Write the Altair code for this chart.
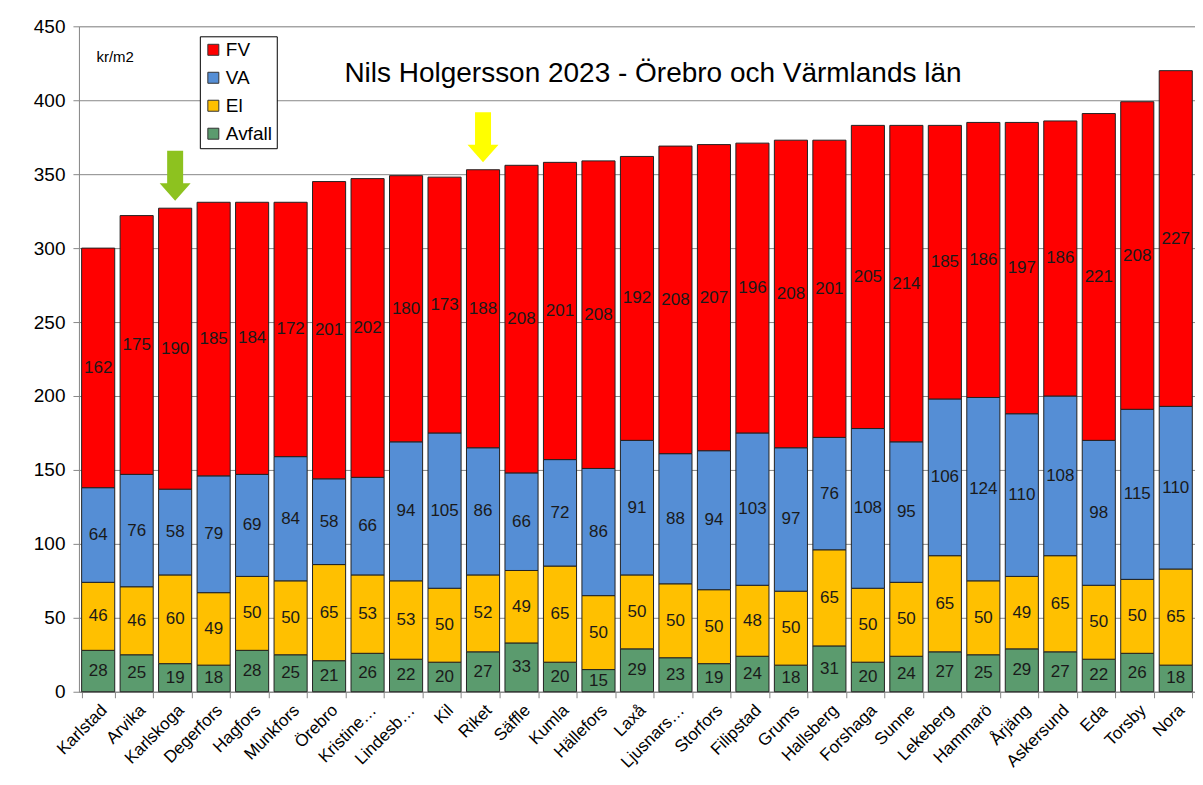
import altair as alt
import pandas as pd

categories = ["Karlstad", "Arvika", "Karlskoga", "Degerfors", "Hagfors", "Munkfors", "Örebro",
              "Kristine…", "Lindesb…", "Kil", "Riket", "Säffle", "Kumla", "Hällefors", "Laxå",
              "Ljusnars…", "Storfors", "Filipstad", "Grums", "Hallsberg", "Forshaga", "Sunne",
              "Lekeberg", "Hammarö", "Årjäng", "Askersund", "Eda", "Torsby", "Nora"]
avfall = [28, 25, 19, 18, 28, 25, 21, 26, 22, 20, 27, 33, 20, 15, 29, 23, 19, 24, 18, 31, 20, 24, 27, 25, 29, 27, 22, 26, 18]
el = [46, 46, 60, 49, 50, 50, 65, 53, 53, 50, 52, 49, 65, 50, 50, 50, 50, 48, 50, 65, 50, 50, 65, 50, 49, 65, 50, 50, 65]
va = [64, 76, 58, 79, 69, 84, 58, 66, 94, 105, 86, 66, 72, 86, 91, 88, 94, 103, 97, 76, 108, 95, 106, 124, 110, 108, 98, 115, 110]
fv = [162, 175, 190, 185, 184, 172, 201, 202, 180, 173, 188, 208, 201, 208, 192, 208, 207, 196, 208, 201, 205, 214, 185, 186, 197, 186, 221, 208, 227]

series_names = ["FV", "VA", "El", "Avfall"]
series_colors = ["#FF0000", "#558ED5", "#FFC000", "#5B9B6E"]
stack_order = {"Avfall": 0, "El": 1, "VA": 2, "FV": 3}

arrow_categories = ["Karlskoga", "Riket"]
arrow_values = [349, 375]

title_text = "Nils Holgersson 2023 - Örebro och Värmlands län"
unit_text = "kr/m2"

rows = []
for i, c in enumerate(categories):
    for name, vals in (("Avfall", avfall), ("El", el), ("VA", va), ("FV", fv)):
        rows.append({"kommun": c, "serie": name, "value": vals[i], "ord": stack_order[name]})
df = pd.DataFrame(rows)
arrows = pd.DataFrame({"kommun": arrow_categories, "y": arrow_values})

FONT = "Liberation Sans"

x_enc = alt.X("kommun:N", sort=categories, title=None,
              scale=alt.Scale(paddingInner=0.14, paddingOuter=0.07),
              axis=alt.Axis(labelAngle=-45, labelFontSize=17, labelColor="#000", labelFont=FONT,
                            tickBand="extent", tickSize=6, tickColor="#888", domainColor="#888",
                            labelPadding=4, grid=False))

base = alt.Chart(df)

bars = base.mark_bar(stroke="#222", strokeWidth=1).encode(
    x=x_enc,
    y=alt.Y("value:Q", stack="zero", scale=alt.Scale(domain=[0, 450]),
            axis=alt.Axis(values=list(range(0, 451, 50)), labelFontSize=19, labelColor="#000",
                          labelFont=FONT, gridColor="#888", tickColor="#888", domainColor="#888",
                          tickSize=6, labelPadding=8,
                          title=unit_text, titleAngle=0, titleAlign="left", titleBaseline="middle",
                          titleX=17, titleY=30, titleFontSize=15, titleFontWeight="normal",
                          titleFont=FONT, titleColor="#000")),
    fill=alt.Fill("serie:N", scale=alt.Scale(domain=series_names, range=series_colors),
                  legend=alt.Legend(title=None, orient="none", legendX=121, legendY=10,
                                    strokeColor="#000", fillColor="white", padding=4,
                                    symbolType="square", symbolSize=121, symbolStrokeColor="#333",
                                    symbolStrokeWidth=1, labelFontSize=19, labelFont=FONT,
                                    labelColor="#000", rowPadding=8, labelOffset=3)),
    order=alt.Order("ord:Q", sort="ascending"),
)

labels = base.transform_stack(
    stack="value", groupby=["kommun"], as_=["y0", "y1"],
    sort=[alt.SortField("ord", order="ascending")]
).transform_calculate(mid="(datum.y0 + datum.y1) / 2").mark_text(
    fontSize=17, font=FONT, color="#1a1a1a", baseline="middle"
).encode(
    x=alt.X("kommun:N", sort=categories),
    y=alt.Y("mid:Q"),
    text=alt.Text("value:Q"),
)

arrow_shape = "M-0.32,-1L0.32,-1L0.32,0.3L0.62,0.3L0,1L-0.62,0.3L-0.32,0.3Z"
arrow_layer = alt.Chart(arrows).mark_point(shape=arrow_shape, filled=True, size=2500, opacity=1,
                                           strokeWidth=0).encode(
    x=alt.X("kommun:N", sort=categories),
    y=alt.Y("y:Q"),
    fill=alt.condition(alt.datum.kommun == "Karlskoga", alt.value("#8DC21F"), alt.value("#FFFF00")),
)

chart = alt.layer(bars, labels, arrow_layer).properties(
    width=1117, height=666,
    title=alt.TitleParams(title_text, fontSize=28, font=FONT, fontWeight="normal", color="#000",
                          anchor="middle", frame="group", orient="top", offset=0,
                          baseline="middle", dy=85, dx=16),
    padding={"left": 71, "top": 18, "right": 0, "bottom": 85},
    autosize=alt.AutoSizeParams(type="none"),
).configure_view(strokeWidth=0).configure(background="white")

chart.save("out.html", embed_options={"renderer": "svg", "actions": False})
